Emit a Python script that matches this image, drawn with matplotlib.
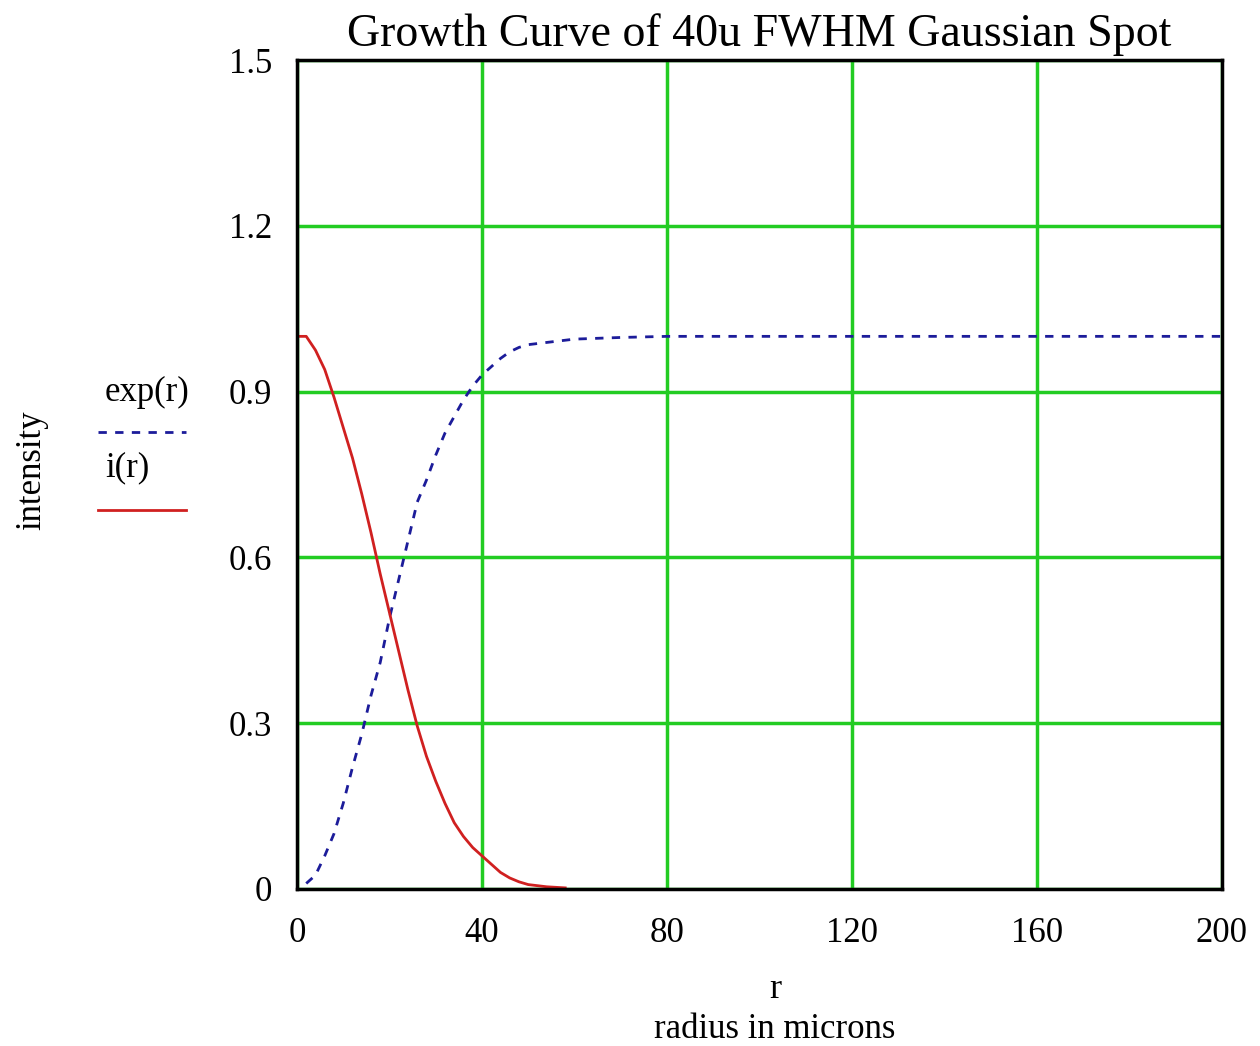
import matplotlib
matplotlib.use('Agg')
import matplotlib.pyplot as plt
from matplotlib.lines import Line2D

plt.rcParams['font.family'] = ['Liberation Serif', 'DejaVu Serif']

# growth curve exp(r)
r_exp = [2, 4, 6, 8, 10, 12, 14, 16, 18, 20, 22, 24, 26, 28, 30, 32, 34, 36, 38, 40,
         42, 44, 46, 48, 50, 55, 60, 70, 80, 120, 160, 200]
exp_r = [0.01, 0.025, 0.06, 0.10, 0.155, 0.22, 0.28, 0.35, 0.41, 0.49, 0.56, 0.63,
         0.70, 0.74, 0.785, 0.825, 0.855, 0.885, 0.91, 0.93, 0.945, 0.96, 0.972,
         0.98, 0.985, 0.99, 0.995, 0.998, 1.0, 1.0, 1.0, 1.0]

# intensity i(r)
r_i = [0, 2, 4, 6, 8, 10, 12, 14, 16, 18, 20, 22, 24, 26, 28, 30, 32, 34, 36, 38,
       40, 42, 44, 46, 48, 50, 54, 58]
i_r = [1.0, 1.0, 0.975, 0.94, 0.89, 0.835, 0.78, 0.715, 0.645, 0.57, 0.50, 0.43,
       0.36, 0.295, 0.24, 0.195, 0.155, 0.12, 0.095, 0.075, 0.06, 0.045, 0.03,
       0.02, 0.013, 0.008, 0.004, 0.002]

xticks = [0, 40, 80, 120, 160, 200]
yticks = [0, 0.3, 0.6, 0.9, 1.2, 1.5]
ytick_labels = ['0', '0.3', '0.6', '0.9', '1.2', '1.5']

fig = plt.figure(figsize=(12.6, 10.46), dpi=100)
ax = fig.add_axes([0.2357, 0.1501, 0.9698 - 0.2357, 0.9426 - 0.1501])

blue = '#1c1c9a'
red = '#d02020'
ax.plot(r_exp, exp_r, color=blue, lw=2, linestyle=(0, (3, 3)))
ax.plot(r_i, i_r, color=red, lw=2)

ax.set_xlim(0, 200)
ax.set_ylim(0, 1.5)
ax.set_xticks(xticks)
ax.set_yticks(yticks)
ax.set_yticklabels(ytick_labels)
ax.grid(True, color='#22cc22', lw=2.5)
ax.set_axisbelow(True)
ax.tick_params(length=0, labelsize=25)
ax.tick_params(axis='x', pad=20)
ax.tick_params(axis='y', pad=18)
for s in ax.spines.values():
    s.set_linewidth(2.5)
    s.set_color('black')

ax.set_title('Growth Curve of 40u FWHM Gaussian Spot', fontsize=33, pad=10)

fig.text(775 / 1260, 1 - 990 / 1046, 'r', fontsize=26, ha='center', va='center')
fig.text(775 / 1260, 1 - 1030 / 1046, 'radius in microns', fontsize=25, ha='center', va='center')
fig.text(32 / 1260, 1 - 470 / 1046, 'intensity', fontsize=25, rotation=90, ha='center', va='center')

# legend drawn by hand on the left side
fig.text(105 / 1260, 1 - 392 / 1046, 'exp(r)', fontsize=25, ha='left', va='center')
fig.text(105 / 1260, 1 - 468 / 1046, 'i(r)', fontsize=25, ha='left', va='center')
fig.add_artist(Line2D([98 / 1260, 186 / 1260], [1 - 432 / 1046] * 2, transform=fig.transFigure,
                      color=blue, lw=2, linestyle=(0, (3, 3))))
fig.add_artist(Line2D([98 / 1260, 186 / 1260], [1 - 510 / 1046] * 2, transform=fig.transFigure,
                      color=red, lw=2))

fig.savefig('out.png', dpi=100)
